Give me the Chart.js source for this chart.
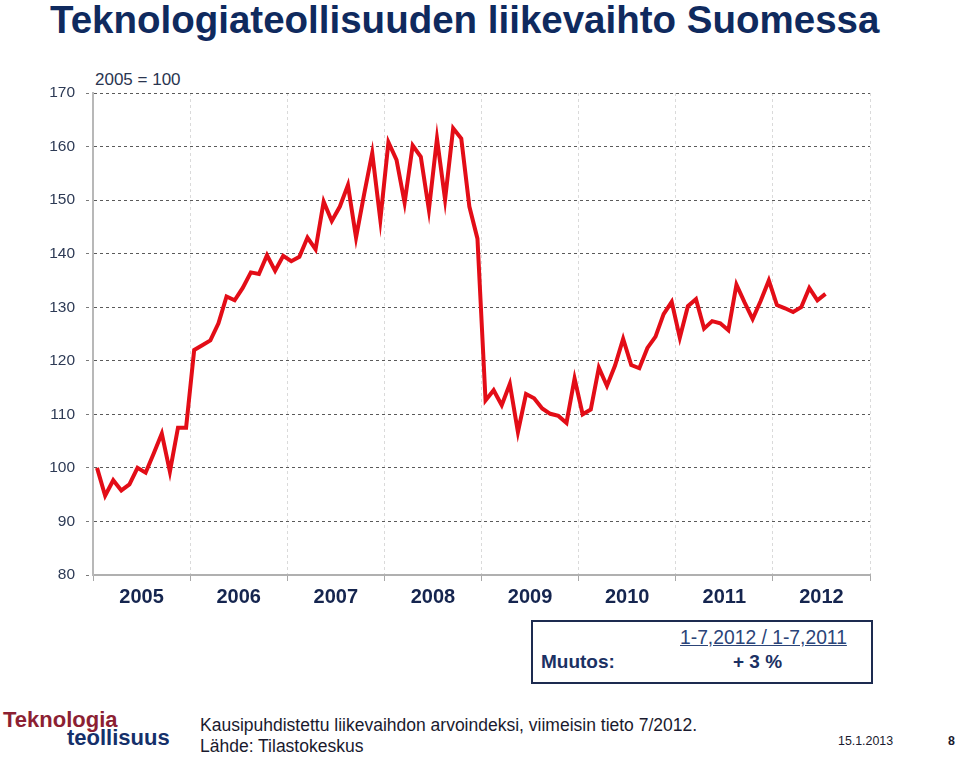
<!DOCTYPE html>
<html>
<head>
<meta charset="utf-8">
<script src="https://cdn.jsdelivr.net/npm/chart.js@4.4.0/dist/chart.umd.min.js"></script>
<style>
  body { margin:0; background:#fff; width:960px; height:758px; overflow:hidden; position:relative; font-family:"Liberation Sans", Arial, sans-serif; }
  .t { position:absolute; white-space:nowrap; line-height:1; }
  #wrap { position:absolute; left:0; top:60px; width:960px; height:560px; }
  #box { position:absolute; left:531px; top:620px; width:338px; height:60px; border:2px solid #1d2b50; }
</style>
</head>
<body>
<div class="t" style="left:50px;top:1px;font-size:38.5px;font-weight:bold;color:#0f2a5e;">Teknologiateollisuuden liikevaihto Suomessa</div>
<div class="t" style="left:95px;top:71px;font-size:17px;color:#2a3550;">2005 = 100</div>
<div id="wrap"><canvas id="chart"></canvas></div>
<div id="box"></div>
<div class="t" style="left:680px;top:628px;font-size:19.3px;color:#2b4478;text-decoration:underline;">1-7,2012 / 1-7,2011</div>
<div class="t" style="left:541px;top:652px;font-size:19px;font-weight:bold;color:#1b3163;">Muutos:</div>
<div class="t" style="left:733px;top:652px;font-size:19px;font-weight:bold;color:#1b3163;">+ 3 %</div>
<div class="t" style="left:3px;top:709px;font-size:22px;font-weight:bold;color:#8c1f33;">Teknologia</div>
<div class="t" style="left:67px;top:727px;font-size:22px;font-weight:bold;color:#15306a;">teollisuus</div>
<div class="t" style="left:200px;top:717px;font-size:17.5px;color:#1a1a2e;">Kausipuhdistettu liikevaihdon arvoindeksi, viimeisin tieto 7/2012.</div>
<div class="t" style="left:200px;top:738px;font-size:17.5px;color:#1a1a2e;">Lähde: Tilastokeskus</div>
<div class="t" style="left:838px;top:735px;font-size:12.4px;color:#1a1a2e;">15.1.2013</div>
<div class="t" style="left:948px;top:735px;font-size:12.4px;font-weight:bold;color:#1a1a2e;">8</div>
<script>
// vuodet ja kuukausittaiset indeksiarvot 1/2005 - 7/2012
var yearLabels = ["2005", "2006", "2007", "2008", "2009", "2010", "2011", "2012"];
var yTicks = [80, 90, 100, 110, 120, 130, 140, 150, 160, 170];
var values2005 = [100.0, 94.8, 97.7, 95.8, 96.9, 100.0, 99.1, 102.7, 106.4, 99.3, 107.5, 107.5];
var values2006 = [122.0, 122.9, 123.8, 127.0, 132.0, 131.3, 133.6, 136.5, 136.2, 139.7, 136.8, 139.6];
var values2007 = [138.6, 139.4, 143.0, 140.8, 149.7, 146.1, 148.8, 152.8, 143.0, 151.1, 158.8, 146.3];
var values2008 = [160.8, 157.5, 149.5, 160.2, 158.1, 148.2, 161.5, 150.1, 163.4, 161.5, 148.8, 142.8];
var values2009 = [112.6, 114.5, 111.7, 115.7, 106.7, 113.8, 113.0, 111.1, 110.1, 109.7, 108.4, 116.7];
var values2010 = [110.0, 110.9, 118.7, 115.3, 119.1, 124.1, 119.2, 118.6, 122.4, 124.5, 128.7, 131.0];
var values2011 = [124.3, 130.2, 131.5, 126.0, 127.4, 127.0, 125.7, 134.2, 130.9, 127.8, 131.2, 135.0];
var values2012 = [130.4, 129.8, 129.1, 130.0, 133.6, 131.3, 132.5];

var values = [].concat(values2005, values2006, values2007, values2008, values2009, values2010, values2011, values2012);
var pts = [];
for (var i = 0; i < values.length; i++) {
    pts.push({x: i + 0.5, y: values[i]});
}

function yearEdge(c) {
    return c.tick && c.tick.value % 12 === 0;
}

var ctx_chart = document.getElementById("chart").getContext("2d");
var chart = new Chart(ctx_chart, {
    type: "line",
    data: {
        datasets: [{
            label: "Liikevaihto",
            data: pts,
            borderColor: "#e30d17",
            borderWidth: 4,
            pointRadius: 0,
            tension: 0,
            fill: false
        }]
    },
    options: {
        responsive: true,
        maintainAspectRatio: false,
        animation: false,
        layout: { padding: { top: 33, right: 90, left: 0, bottom: 0 } },
        plugins: {
            legend: { display: false },
            tooltip: { enabled: false }
        },
        scales: {
            x: {
                type: "linear",
                min: 0,
                max: yearLabels.length * 12,
                afterBuildTicks: function (s) {
                    var t = [];
                    for (var v = 0; v <= yearLabels.length * 12; v += 6) t.push({value: v});
                    s.ticks = t;
                },
                afterFit: function (s) { s.height = 45; },
                grid: {
                    color: function (c) { return yearEdge(c) ? "#dadada" : "rgba(0,0,0,0)"; },
                    tickColor: function (c) { return yearEdge(c) ? "#a8a8a8" : "rgba(0,0,0,0)"; },
                    tickLength: 6,
                    lineWidth: 1
                },
                border: { color: "#b0b0b0", width: 2, dash: [3, 3] },
                ticks: {
                    autoSkip: false,
                    maxRotation: 0,
                    padding: 4,
                    color: "#15254f",
                    font: { family: "'Liberation Sans', Arial, sans-serif", size: 20, weight: "bold" },
                    callback: function (v) {
                        if (v % 12 === 6) return yearLabels[(v - 6) / 12];
                        return "";
                    }
                }
            },
            y: {
                min: 80,
                max: 170,
                afterBuildTicks: function (s) {
                    s.ticks = yTicks.map(function (v) { return {value: v}; });
                },
                afterFit: function (s) { s.width = 93; },
                grid: {
                    color: "#5a5a5a",
                    tickColor: "#7a7a7a",
                    tickLength: 7,
                    tickBorderDash: [3, 3],
                    lineWidth: 1
                },
                border: { color: "#b8b8b8", width: 2, dash: [3, 3] },
                ticks: {
                    padding: 11,
                    color: "#2d3a55",
                    font: { family: "'Liberation Sans', Arial, sans-serif", size: 15.5 }
                }
            }
        }
    }
});
</script>
</body>
</html>
